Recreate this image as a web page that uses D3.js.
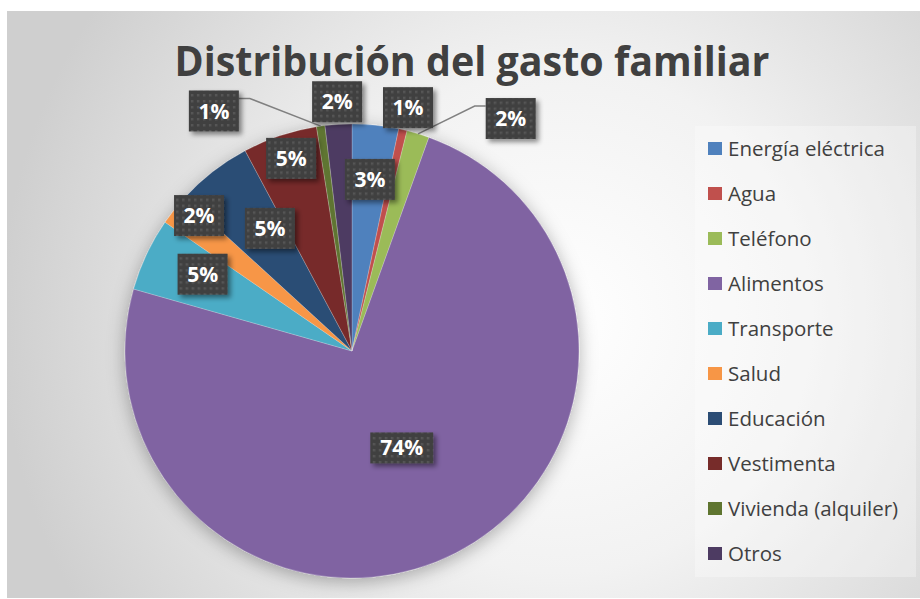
<!DOCTYPE html>
<html>
<head>
<meta charset="utf-8">
<script src="https://cdn.jsdelivr.net/npm/d3@7"></script>
<style>
    body { margin: 0; background: #ffffff; }
    svg text { font-family: "Open Sans", "DejaVu Sans", sans-serif; }
</style>
</head>
<body>
<div id="root"></div>
<script>
// 데이터
const categories = ["Energía eléctrica", "Agua", "Teléfono", "Alimentos", "Transporte",
    "Salud", "Educación", "Vestimenta", "Vivienda (alquiler)", "Otros"];
const values = [3.3, 0.6, 1.6, 73.9, 5.2, 2.2, 5.4, 5.3, 0.6, 1.9];
const colors = ["#4F81BD", "#C0504D", "#9BBB59", "#8064A2", "#4BACC6",
    "#F79646", "#2C4D75", "#772C2A", "#5F7530", "#4D3B62"];
const titleText = "Distribución del gasto familiar";

// label placement (Excel best fit): fraction of radius, angle shift in degrees
const labelRadius = [0.76, 1.1, 1.24, 0.48, 0.74, 0.9, 0.65, 0.89, 1.22, 1.1];
const labelShift = [0, 0, 17.4, 0, 2, 3, 4, 1, -22, 0];

const width = 920, height = 599;
const cx = 352, cy = 351, radius = 227;

const svg = d3.select("#root").append("svg")
    .attr("width", width)
    .attr("height", height);

const defs = svg.append("defs");

// chart background radial gradient
const bg = defs.append("radialGradient")
    .attr("id", "bgGrad")
    .attr("gradientUnits", "userSpaceOnUse")
    .attr("cx", 560).attr("cy", 320).attr("r", 560);
bg.append("stop").attr("offset", "0%").attr("stop-color", "#ffffff");
bg.append("stop").attr("offset", "45%").attr("stop-color", "#f2f2f2");
bg.append("stop").attr("offset", "100%").attr("stop-color", "#cfcfcf");

// dotted pattern for the data label boxes
const pat = defs.append("pattern")
    .attr("id", "dots")
    .attr("patternUnits", "userSpaceOnUse")
    .attr("width", 6).attr("height", 6);
pat.append("rect").attr("width", 6).attr("height", 6).attr("fill", "#404040");
pat.append("rect").attr("x", 1).attr("y", 1).attr("width", 2.5).attr("height", 2.5).attr("fill", "#565656");

const shadow = defs.append("filter").attr("id", "boxShadow")
    .attr("x", "-30%").attr("y", "-30%").attr("width", "170%").attr("height", "170%");
shadow.append("feDropShadow")
    .attr("dx", 3).attr("dy", 3).attr("stdDeviation", 2.5)
    .attr("flood-color", "#000").attr("flood-opacity", 0.45);

const pieShadow = defs.append("filter").attr("id", "pieShadow")
    .attr("x", "-20%").attr("y", "-20%").attr("width", "140%").attr("height", "140%");
pieShadow.append("feDropShadow")
    .attr("dx", 0).attr("dy", 4).attr("stdDeviation", 9)
    .attr("flood-color", "#000").attr("flood-opacity", 0.3);

// 배경
svg.append("rect")
    .attr("x", 7).attr("y", 11)
    .attr("width", width - 7).attr("height", 587)
    .attr("fill", "url(#bgGrad)");

// title
svg.append("text")
    .attr("x", 472).attr("y", 76)
    .attr("text-anchor", "middle")
    .attr("font-size", 41)
    .attr("font-weight", "bold")
    .attr("fill", "#404040")
    .attr("textLength", 595)
    .attr("lengthAdjust", "spacingAndGlyphs")
    .text(titleText);

// pie
const pie = d3.pie().sort(null).value(d => d)(values);
const arc = d3.arc().innerRadius(0).outerRadius(radius);

const g = svg.append("g").attr("transform", `translate(${cx},${cy})`);
g.append("g").attr("filter", "url(#pieShadow)")
    .selectAll("path")
    .data(pie)
    .join("path")
    .attr("d", arc)
    .attr("fill", (d, i) => colors[i])
    .attr("stroke", "rgba(255,255,255,0.35)")
    .attr("stroke-width", 0.6);

// labels
const deg = Math.PI / 180;
const labels = pie.map((d, i) => {
    const a = (d.startAngle + d.endAngle) / 2 + labelShift[i] * deg;
    const r = radius * labelRadius[i];
    const pct = Math.round(values[i] / d3.sum(values) * 100) + "%";
    const big = pct.length > 2 ? true : false;
    const w = big ? 63 : 50, h = big ? 31 : 41;
    return {
        i, pct, w, h,
        x: cx + Math.sin(a) * r,
        y: cy - Math.cos(a) * r,
        mid: (d.startAngle + d.endAngle) / 2,
        outside: labelRadius[i] > 1.15
    };
});

// leader lines for labels far out
labels.filter(l => l.outside).forEach(l => {
    const px = cx + Math.sin(l.mid) * radius;
    const py = cy - Math.cos(l.mid) * radius;
    const side = l.x > px ? -1 : 1; // box is right of point -> attach to left edge
    const bx = l.x + side * l.w / 2;
    const by = l.y - l.h / 2 + 8;
    svg.append("polyline")
        .attr("points", `${px},${py} ${bx + side * 11},${by} ${bx},${by}`)
        .attr("fill", "none")
        .attr("stroke", "#808080")
        .attr("stroke-width", 1.5);
});

const lg = svg.append("g").selectAll("g")
    .data(labels)
    .join("g")
    .attr("transform", l => `translate(${l.x},${l.y})`);
lg.append("rect")
    .attr("x", l => -l.w / 2).attr("y", l => -l.h / 2)
    .attr("width", l => l.w).attr("height", l => l.h)
    .attr("fill", "url(#dots)")
    .attr("filter", "url(#boxShadow)");
lg.append("text")
    .attr("text-anchor", "middle")
    .attr("dy", "0.36em")
    .attr("font-size", 21)
    .attr("font-weight", "bold")
    .attr("fill", "#ffffff")
    .text(l => l.pct);

// legend
svg.append("rect")
    .attr("x", 695).attr("y", 126)
    .attr("width", 221).attr("height", 451)
    .attr("fill", "#ffffff").attr("fill-opacity", 0.3);

const leg = svg.append("g").selectAll("g")
    .data(categories)
    .join("g")
    .attr("transform", (d, i) => `translate(708,${148.5 + i * 45})`);
leg.append("rect")
    .attr("y", -6.5).attr("width", 14).attr("height", 13)
    .attr("fill", (d, i) => colors[i]);
leg.append("text")
    .attr("x", 20).attr("dy", "0.35em")
    .attr("font-size", 20.5)
    .attr("fill", "#404040")
    .text(d => d);
</script>
</body>
</html>
